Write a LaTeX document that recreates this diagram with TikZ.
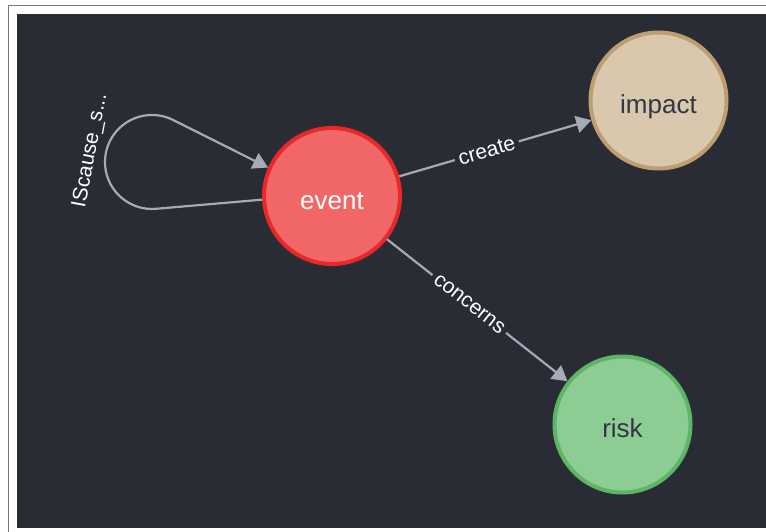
\documentclass[tikz,border=0pt]{standalone}
\usepackage{fontspec}
\setmainfont{Liberation Sans}
\usetikzlibrary{arrows.meta}
\definecolor{bgdark}{RGB}{41,44,52}
\definecolor{edgegray}{RGB}{165,171,182}
\definecolor{evfill}{RGB}{241,102,103}
\definecolor{evline}{RGB}{235,40,41}
\definecolor{imfill}{RGB}{217,200,174}
\definecolor{imline}{RGB}{188,158,112}
\definecolor{rkfill}{RGB}{141,204,147}
\definecolor{rkline}{RGB}{93,182,101}
\definecolor{darktext}{RGB}{52,54,66}
\definecolor{framegray}{RGB}{120,120,120}
\begin{document}
\begin{tikzpicture}[x=1pt,y=1pt,
  nodecircle/.style={circle, minimum size=136pt, inner sep=0pt, line width=4pt,
    text height=26pt, text depth=0pt, font=\fontsize{26}{30}\selectfont},
  edge/.style={draw=edgegray, line width=2.2pt, -{Triangle[length=15pt,width=17pt]}},
  elabel/.style={fill=bgdark, text=white, inner xsep=4pt, inner ysep=1pt,
    font=\fontsize{21}{25}\selectfont},
  looplabel/.style={text=white, inner sep=0pt, font=\fontsize{21}{25}\selectfont}]
\useasboundingbox (0,0) rectangle (766,-532);
\fill[white] (0,0) rectangle (766,-532);
\draw[framegray, line width=1.5pt] (8.5,-532) -- (8.5,-5.5) -- (766,-5.5);
\fill[bgdark] (17,-14) rectangle (766,-528);

\node[nodecircle, fill=evfill, draw=evline, text=white] (event) at (332,-196) {event};
\node[nodecircle, fill=imfill, draw=imline, text=darktext] (impact) at (658.5,-100.5) {impact};
\node[nodecircle, fill=rkfill, draw=rkline, text=darktext] (risk) at (622.5,-424.5) {risk};

\draw[edge] (event) -- node[elabel, pos=0.456, sloped] (lcreate) {create} (impact);
\draw[edge] (event) -- node[elabel, pos=0.456, sloped] (lconcerns) {concerns} (risk);
\draw[edge] (event.183) -- (156.0,-208.8) arc[start angle=274.9, end angle=63.5, radius=47] -- (event.156);
\node[looplabel, rotate=79.3] (lloop) at (90.5,-150.5) {IScause\_s...};
\end{tikzpicture}
\end{document}
